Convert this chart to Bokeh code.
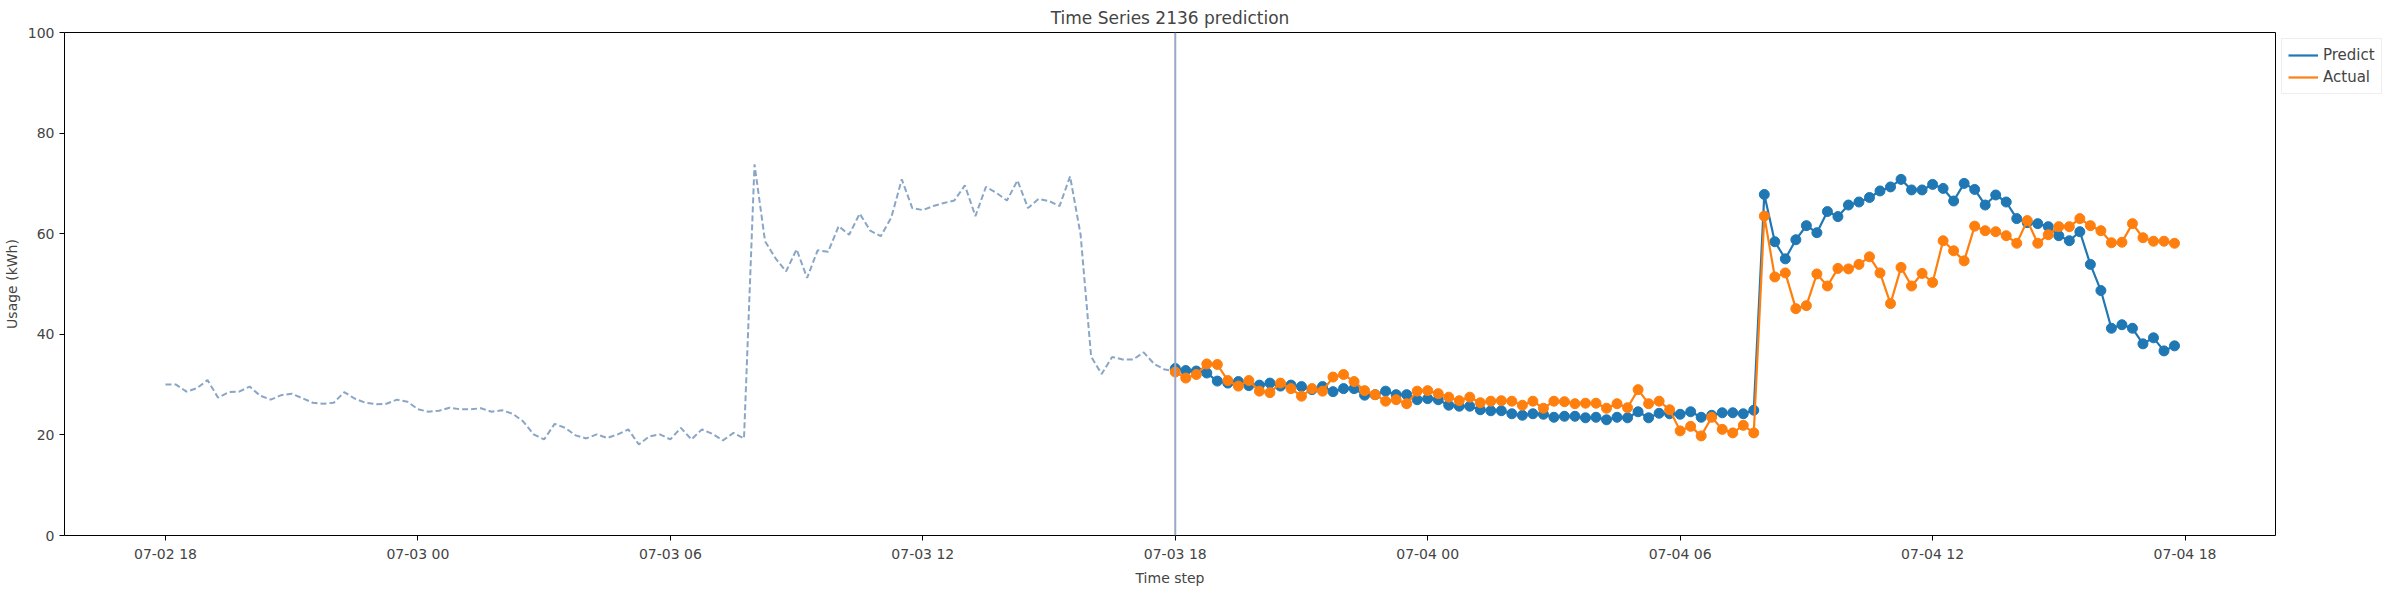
from bokeh.plotting import figure
from bokeh.models import Span, Legend, LegendItem, DatetimeTickFormatter, Range1d, FixedTicker
from bokeh.embed import file_html
from bokeh.resources import INLINE
import pandas as pd

# history: 15-min steps from 07-02 18:00 to 07-03 18:00
history = [30.0, 30.0, 28.6, 29.3, 30.9, 27.4, 28.5, 28.6, 29.6, 27.8,
           27.0, 27.9, 28.2, 27.3, 26.4, 26.2, 26.4, 28.5, 27.2, 26.4,
           26.1, 26.2, 27.0, 26.6, 25.1, 24.6, 24.8, 25.4, 25.1, 25.1,
           25.3, 24.6, 24.9, 24.2, 22.7, 20.1, 19.1, 22.2, 21.4, 19.9,
           19.3, 20.1, 19.4, 20.1, 21.1, 18.1, 19.7, 20.1, 19.1, 21.4,
           19.1, 21.1, 20.2, 18.9, 20.4, 19.3, 73.8, 58.5, 55.1, 52.5,
           56.9, 51.2, 56.7, 56.4, 61.5, 59.8, 64.0, 60.6, 59.5, 63.2,
           70.8, 65.1, 64.7, 65.5, 66.1, 66.6, 69.6, 63.5, 69.3, 68.1,
           66.6, 70.6, 65.1, 66.9, 66.5, 65.5, 71.4, 59.8, 35.6, 32.1,
           35.5, 35.0, 35.0, 36.4, 34.1, 33.0, 32.7]

# forecast window: 15-min steps from 07-03 18:00 to 07-04 17:45
predict = [33.2, 32.8, 32.7, 32.3, 30.7, 30.3, 30.6, 29.8, 29.9, 30.3,
           29.7, 29.9, 29.6, 29.0, 29.6, 28.6, 29.2, 29.2, 27.9, 28.0,
           28.7, 28.0, 28.0, 27.0, 27.2, 27.0, 25.9, 25.7, 25.7, 25.0,
           24.8, 24.8, 24.2, 23.9, 24.2, 24.1, 23.5, 23.7, 23.7, 23.4,
           23.5, 23.0, 23.5, 23.4, 24.6, 23.4, 24.3, 24.2, 24.1, 24.6,
           23.5, 23.9, 24.4, 24.4, 24.2, 24.9, 67.8, 58.4, 55.0, 58.8,
           61.6, 60.2, 64.4, 63.4, 65.7, 66.3, 67.2, 68.5, 69.3, 70.8,
           68.7, 68.7, 69.8, 69.0, 66.5, 70.0, 68.8, 65.7, 67.7, 66.3,
           63.0, 62.2, 62.0, 61.4, 59.6, 58.6, 60.4, 53.9, 48.7, 41.2,
           41.9, 41.2, 38.1, 39.3, 36.7, 37.7]
actual = [32.5, 31.3, 32.0, 34.1, 34.0, 30.8, 29.7, 30.8, 28.7, 28.4,
          30.3, 29.2, 27.7, 29.2, 28.7, 31.5, 32.0, 30.6, 28.8, 28.0,
          26.7, 27.0, 26.2, 28.7, 28.8, 28.2, 27.5, 26.8, 27.5, 26.4,
          26.7, 26.8, 26.7, 25.9, 26.7, 25.3, 26.7, 26.6, 26.2, 26.3,
          26.3, 25.3, 26.2, 25.4, 29.0, 26.2, 26.7, 25.0, 20.8, 21.7,
          19.8, 23.5, 21.1, 20.4, 21.9, 20.4, 63.5, 51.4, 52.2, 45.1,
          45.7, 52.0, 49.6, 53.1, 53.0, 53.9, 55.4, 52.2, 46.1, 53.3,
          49.6, 52.1, 50.3, 58.6, 56.6, 54.6, 61.5, 60.6, 60.4, 59.6,
          58.1, 62.6, 58.1, 59.8, 61.4, 61.4, 63.0, 61.6, 60.6, 58.2,
          58.3, 62.0, 59.2, 58.5, 58.5, 58.1]

hist_t = pd.date_range("2023-07-02 18:00", periods=len(history), freq="15min")
fc_t = pd.date_range("2023-07-03 18:00", periods=len(predict), freq="15min")
ticks = pd.date_range("2023-07-02 18:00", "2023-07-04 18:00", freq="6h")

FONT = "DejaVu Sans"

p = figure(frame_width=2211, frame_height=503, x_axis_type="datetime", output_backend="svg",
           toolbar_location=None, title="Time Series 2136 prediction",
           min_border_left=10, min_border_top=10, min_border_bottom=10, min_border_right=0)
p.x_range = Range1d(pd.Timestamp("2023-07-02 15:36"), pd.Timestamp("2023-07-04 20:09"))
p.y_range = Range1d(0, 100)
p.grid.visible = False
p.outline_line_color = "black"
p.title.align = "center"
p.title.text_font = FONT
p.title.text_font_size = "17px"
p.title.text_font_style = "normal"

p.xaxis.ticker = FixedTicker(ticks=[t.value // 10**6 for t in ticks])
p.xaxis.formatter = DatetimeTickFormatter(hours="%m-%d %H", days="%m-%d %H")
p.yaxis.ticker = FixedTicker(ticks=[0, 20, 40, 60, 80, 100])
p.xaxis.axis_label = "Time step"
p.yaxis.axis_label = "Usage (kWh)"
for ax in (p.xaxis, p.yaxis):
    ax.axis_label_text_font = FONT
    ax.axis_label_text_font_size = "14px"
    ax.axis_label_text_font_style = "normal"
    ax.major_label_text_font = FONT
    ax.major_label_text_font_size = "14px"
    ax.minor_tick_line_color = None
    ax.major_tick_out = 5
    ax.major_tick_in = 0
    ax.axis_line_color = None

p.line(hist_t, history, line_color="#8aa6c6", line_width=2, line_dash="6 3")
p.add_layout(Span(location=pd.Timestamp("2023-07-03 18:00").value // 10**6,
                  dimension="height", line_color="#9aa8c8", line_width=2))

lp = p.line(fc_t, predict, line_color="#1f77b4", line_width=2.2)
p.scatter(fc_t, predict, size=10, color="#1f77b4")
la = p.line(fc_t, actual, line_color="#ff7f0e", line_width=2.2)
p.scatter(fc_t, actual, size=10, color="#ff7f0e")

legend = Legend(items=[LegendItem(label="Predict", renderers=[lp]),
                       LegendItem(label="Actual", renderers=[la])],
                location="top_left", margin=6, padding=6, spacing=2,
                label_text_font=FONT, label_text_font_size="15px",
                border_line_color="#dddddd", glyph_width=30)
p.add_layout(legend, "right")

open("out.html", "w").write(file_html(p, INLINE))
